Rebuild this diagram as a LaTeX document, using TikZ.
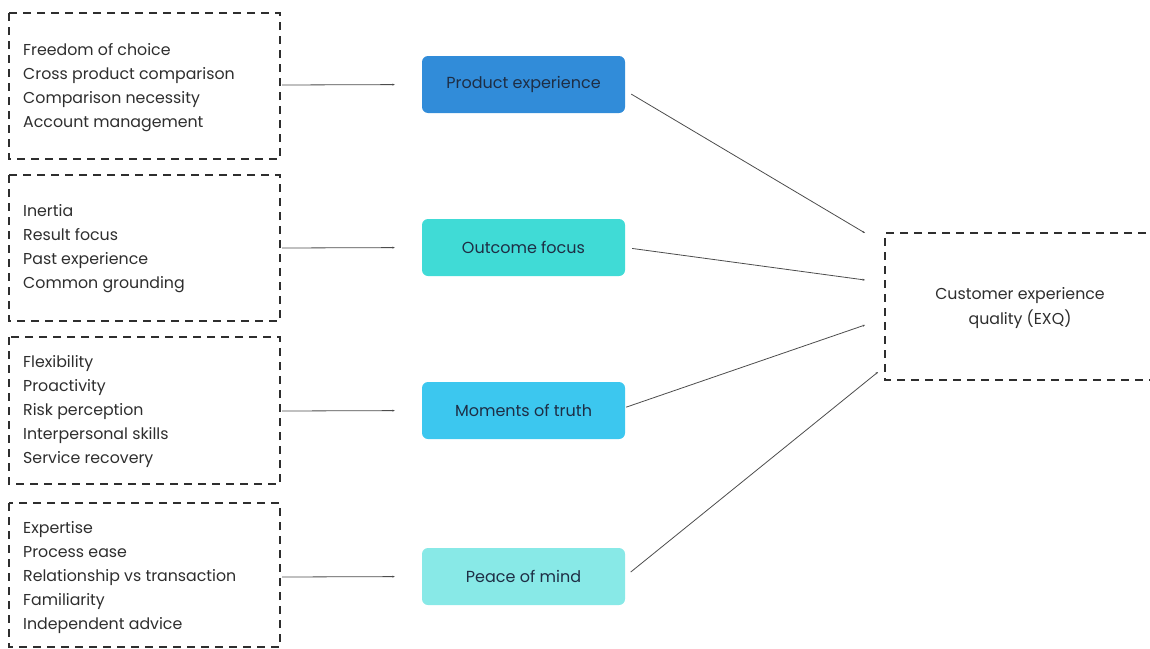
\documentclass[tikz,border=0pt]{standalone}
\usepackage{fontspec}
\setmainfont{Poppins}
\usetikzlibrary{arrows.meta}
\definecolor{txt}{HTML}{2E2E2E}
\definecolor{navy}{HTML}{1E2E45}
\definecolor{cA}{HTML}{318CD9}
\definecolor{cB}{HTML}{40DBD6}
\definecolor{cC}{HTML}{3CC7EF}
\definecolor{cD}{HTML}{88E9E7}
\tikzset{
  dbox/.style={draw=txt, line width=1.6pt, dash pattern=on 8pt off 6pt, inner sep=0pt},
  cbox/.style={rounded corners=6pt, minimum width=203pt, minimum height=57pt, inner sep=0pt, text=navy, font=\fontsize{16}{18}\selectfont},
  lst/.style={anchor=north west, align=left, text=txt, inner sep=0pt, font=\fontsize{15.8}{24}\selectfont},
  conn/.style={draw=black!70, line width=0.8pt, -{Stealth[length=2.5pt,width=2pt]}},
}
\begin{document}
\begin{tikzpicture}[x=1pt,y=-1pt]
\useasboundingbox (0,0) rectangle (1150,648);
% left dashed boxes
\draw[dbox] (9,13) rectangle (280,159);
\draw[dbox] (9,175) rectangle (280,321);
\draw[dbox] (9,337) rectangle (280,484);
\draw[dbox] (9,503) rectangle (280,647);
\draw[dbox] (1160,233) -- (885,233) -- (885,380) -- (1160,380);
% anchors of left boxes
\coordinate (b1) at (282,85);
\coordinate (b2) at (282,248);
\coordinate (b3) at (282,411);
\coordinate (b4) at (282,577);
% lists
\node[lst] (l1) at (23,43) {Freedom of choice\\Cross product comparison\\Comparison necessity\\Account management};
\node[lst] (l2) at (23,204) {Inertia\\Result focus\\Past experience\\Common grounding};
\node[lst] (l3) at (23,355) {Flexibility\\Proactivity\\Risk perception\\Interpersonal skills\\Service recovery};
\node[lst] (l4) at (23,521) {Expertise\\Process ease\\Relationship vs transaction\\Familiarity\\Independent advice};
% colored boxes
\node[cbox, fill=cA] (pe) at (523.5,84.5) {Product experience};
\node[cbox, fill=cB] (of) at (523.5,247.5) {Outcome focus};
\node[cbox, fill=cC] (mt) at (523.5,410.5) {Moments of truth};
\node[cbox, fill=cD] (pm) at (523.5,576.5) {Peace of mind};
% EXQ
\node[text=txt, align=center, font=\fontsize{15.8}{25}\selectfont] (exq) at (1020,308) {Customer experience\\quality (EXQ)};
% connectors left
\draw[conn, shorten >=27pt] (b1) -- (pe.west);
\draw[conn, shorten >=27pt] (b2) -- (of.west);
\draw[conn, shorten >=27pt] (b3) -- (mt.west);
\draw[conn, shorten >=27pt] (b4) -- (pm.west);
% connectors right
\coordinate (e1) at (865,233);
\coordinate (e2) at (865,280);
\coordinate (e3) at (865,325);
\coordinate (e4) at (878,372);
\draw[conn, shorten <=7pt] ([yshift=-6pt]pe.east) -- (e1);
\draw[conn, shorten <=7pt] (of.east) -- (e2);
\draw[conn, shorten <=1pt] ([yshift=3pt]mt.east) -- (e3);
\draw[conn, shorten <=7pt] (pm.east) -- (e4);
\end{tikzpicture}
\end{document}
